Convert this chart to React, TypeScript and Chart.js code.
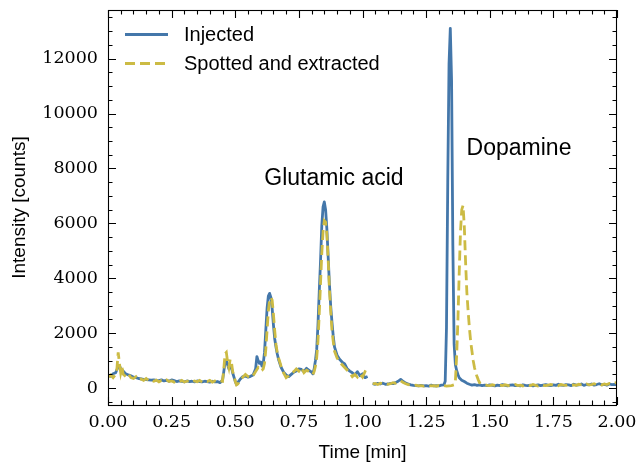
import { useEffect, useRef } from "react";
import { Chart, registerables } from "chart.js";

Chart.register(...registerables);

const seriesLabels = ["Injected", "Spotted and extracted"];
const seriesColors = ["#4477AA", "#CCBB44"];

// [time (min), intensity (counts)] ; null breaks the trace
const injected: [number, number | null][] = [
  [0, 470], [0.01, 430], [0.02, 520], [0.03, 560], [0.04, 780], [0.045, 820], [0.05, 700], [0.06, 620], [0.07, 520], [0.08, 480], [0.09, 450],
  [0.1, 400], [0.11, 380], [0.12, 350], [0.13, 340], [0.14, 320], [0.15, 310], [0.16, 300], [0.17, 290], [0.18, 300], [0.19, 280],
  [0.2, 270], [0.21, 300], [0.22, 260], [0.23, 280], [0.24, 250], [0.25, 300], [0.26, 270], [0.27, 240], [0.28, 260], [0.29, 250],
  [0.3, 230], [0.31, 260], [0.32, 240], [0.33, 250], [0.34, 230], [0.35, 260], [0.36, 240], [0.37, 230], [0.38, 250], [0.39, 240],
  [0.4, 220], [0.41, 250], [0.42, 230], [0.43, 240], [0.44, 200],
  [0.45, 280], [0.455, 600], [0.46, 950], [0.465, 1000], [0.47, 850], [0.475, 700], [0.48, 820], [0.485, 750], [0.49, 550], [0.495, 400], [0.5, 250], [0.505, 130], [0.51, 200],
  [0.52, 330], [0.53, 420], [0.54, 440], [0.55, 400], [0.56, 430], [0.57, 480], [0.58, 700],
  [0.585, 1150], [0.59, 1000], [0.595, 900], [0.6, 950], [0.605, 800], [0.61, 900], [0.615, 1300], [0.62, 2100], [0.625, 2900], [0.63, 3350],
  [0.635, 3450], [0.64, 3300], [0.645, 2900], [0.65, 2300], [0.655, 1800], [0.66, 1500], [0.665, 1250], [0.67, 1050], [0.675, 900], [0.68, 760],
  [0.69, 580], [0.7, 480], [0.71, 420], [0.72, 500], [0.73, 580], [0.74, 620], [0.75, 700], [0.76, 680], [0.77, 600], [0.78, 720], [0.79, 650], [0.8, 580],
  [0.805, 520], [0.81, 700], [0.815, 1000], [0.82, 1400], [0.825, 2300], [0.83, 3500], [0.835, 4600], [0.84, 5900], [0.845, 6600],
  [0.85, 6780], [0.855, 6500], [0.86, 5800], [0.865, 4800], [0.87, 3800], [0.875, 3000], [0.88, 2400], [0.885, 1900], [0.89, 1500],
  [0.9, 1200], [0.91, 1050], [0.92, 950], [0.93, 880], [0.94, 700], [0.95, 620], [0.96, 560], [0.97, 480], [0.98, 600], [0.99, 450],
  [1.0, 520], [1.01, 380], [1.02, 420],
  [1.03, null],
  [1.04, 160], [1.05, 140], [1.06, 170], [1.07, 150], [1.08, 180], [1.09, 140], [1.1, 150], [1.11, 170], [1.12, 160], [1.13, 200],
  [1.14, 250], [1.15, 320], [1.16, 240], [1.17, 180], [1.18, 150], [1.19, 120], [1.2, 100], [1.21, 90], [1.22, 80], [1.23, 100],
  [1.24, 80], [1.25, 90], [1.26, 70], [1.27, 110], [1.28, 80], [1.29, 90], [1.3, 80], [1.31, 110], [1.32, 120],
  [1.325, 250], [1.33, 2200], [1.335, 7500], [1.34, 11800], [1.345, 13100], [1.35, 11200], [1.355, 5200], [1.36, 1600], [1.365, 850],
  [1.37, 640], [1.375, 500], [1.38, 380], [1.39, 290], [1.4, 240], [1.41, 180], [1.42, 140], [1.43, 110], [1.44, 130], [1.45, 100],
  [1.46, 120], [1.47, 90], [1.48, 110], [1.49, 90], [1.5, 120], [1.51, 100], [1.52, 80], [1.53, 110], [1.54, 90], [1.55, 130],
  [1.56, 100], [1.57, 80], [1.58, 110], [1.59, 120], [1.6, 90], [1.61, 100], [1.62, 80], [1.63, 120], [1.64, 100], [1.65, 90],
  [1.66, 110], [1.67, 80], [1.68, 100], [1.69, 120], [1.7, 90], [1.71, 110], [1.72, 130], [1.73, 100], [1.74, 90], [1.75, 120],
  [1.76, 100], [1.77, 140], [1.78, 110], [1.79, 100], [1.8, 130], [1.81, 120], [1.82, 90], [1.83, 140], [1.84, 110], [1.85, 120],
  [1.86, 150], [1.87, 100], [1.88, 130], [1.89, 120], [1.9, 150], [1.91, 110], [1.92, 130], [1.93, 160], [1.94, 120], [1.95, 140],
  [1.96, 110], [1.97, 150], [1.98, 130], [1.99, 140], [2.0, 120],
];

const spotted: [number, number | null][] = [
  [0, 400], [0.01, 480], [0.02, 380], [0.03, 500], [0.035, 700], [0.04, 1300], [0.045, 900], [0.05, 550], [0.055, 750], [0.06, 500],
  [0.07, 420], [0.08, 520], [0.09, 380], [0.1, 350], [0.11, 420], [0.12, 300], [0.13, 330], [0.14, 280], [0.15, 350], [0.16, 270],
  [0.17, 300], [0.18, 250], [0.19, 290], [0.2, 230], [0.21, 280], [0.22, 250], [0.23, 300], [0.24, 240], [0.25, 260], [0.26, 220],
  [0.27, 270], [0.28, 230], [0.29, 280], [0.3, 220], [0.31, 250], [0.32, 270], [0.33, 220], [0.34, 260], [0.35, 230], [0.36, 280],
  [0.37, 220], [0.38, 260], [0.39, 240], [0.4, 280], [0.41, 220], [0.42, 260], [0.43, 230], [0.44, 270],
  [0.45, 250], [0.455, 700], [0.46, 1250], [0.465, 1300], [0.47, 950], [0.475, 750], [0.48, 1050], [0.485, 950], [0.49, 600], [0.495, 450],
  [0.5, 250], [0.505, 120], [0.51, 150], [0.52, 280], [0.53, 400], [0.54, 500], [0.55, 420], [0.56, 380], [0.57, 450], [0.58, 600],
  [0.59, 750], [0.595, 700], [0.6, 620], [0.605, 650], [0.61, 700], [0.615, 900], [0.62, 1400], [0.625, 2100], [0.63, 2800], [0.635, 3200],
  [0.64, 3300], [0.645, 3200], [0.65, 2700], [0.655, 2100], [0.66, 1600], [0.665, 1300], [0.67, 1100], [0.675, 950], [0.68, 800],
  [0.69, 550], [0.7, 380], [0.71, 450], [0.72, 550], [0.73, 600], [0.74, 700], [0.75, 620], [0.76, 750], [0.77, 560], [0.78, 650],
  [0.79, 600], [0.8, 520], [0.805, 500], [0.81, 600], [0.815, 800], [0.82, 1100], [0.825, 1700], [0.83, 2700], [0.835, 3800], [0.84, 4900],
  [0.845, 5700], [0.85, 6100], [0.855, 6050], [0.86, 5600], [0.865, 4700], [0.87, 3600], [0.875, 2800], [0.88, 2100], [0.885, 1700], [0.89, 1350],
  [0.9, 1100], [0.91, 950], [0.92, 850], [0.93, 750], [0.94, 650], [0.95, 550], [0.96, 420], [0.97, 500], [0.98, 400], [0.99, 520],
  [1.0, 400], [1.01, 600], [1.02, 550],
  [1.03, null],
  [1.04, 150], [1.05, 170], [1.06, 130], [1.07, 180], [1.08, 150], [1.09, 170], [1.1, 140], [1.11, 160], [1.12, 200], [1.13, 180],
  [1.14, 230], [1.15, 270], [1.16, 200], [1.17, 160], [1.18, 130], [1.19, 110], [1.2, 90], [1.21, 110], [1.22, 80], [1.23, 90],
  [1.24, 70], [1.25, 90], [1.26, 100], [1.27, 80], [1.28, 90], [1.29, 70], [1.3, 100], [1.31, 80], [1.32, 90], [1.33, 70],
  [1.34, 80], [1.35, 90], [1.36, 120], [1.365, 250], [1.37, 1200], [1.375, 2500], [1.38, 4200], [1.385, 5700], [1.39, 6500], [1.395, 6650],
  [1.4, 5900], [1.405, 4600], [1.41, 3500], [1.415, 2800], [1.42, 2200], [1.425, 1700], [1.43, 1350], [1.435, 1000], [1.44, 750], [1.445, 560],
  [1.45, 420], [1.455, 300], [1.46, 200], [1.47, 150], [1.48, 120], [1.49, 100], [1.5, 90], [1.51, 120], [1.52, 100], [1.53, 80],
  [1.54, 110], [1.55, 90], [1.56, 120], [1.57, 100], [1.58, 80], [1.59, 110], [1.6, 130], [1.61, 90], [1.62, 110], [1.63, 80],
  [1.64, 120], [1.65, 100], [1.66, 90], [1.67, 130], [1.68, 100], [1.69, 80], [1.7, 120], [1.71, 100], [1.72, 90], [1.73, 110],
  [1.74, 130], [1.75, 100], [1.76, 120], [1.77, 90], [1.78, 130], [1.79, 110], [1.8, 100], [1.81, 140], [1.82, 110], [1.83, 120],
  [1.84, 100], [1.85, 140], [1.86, 120], [1.87, 110], [1.88, 150], [1.89, 120], [1.9, 130], [1.91, 160], [1.92, 120], [1.93, 140],
  [1.94, 110], [1.95, 150], [1.96, 130], [1.97, 170], [1.98, 140], [1.99, 190], [2.0, 200],
];

const xMajorTicks = [0, 0.25, 0.5, 0.75, 1.0, 1.25, 1.5, 1.75, 2.0];
const yMajorTicks = [0, 2000, 4000, 6000, 8000, 10000, 12000];
const xMinorStep = 0.05;
const yMinorStep = 500;
const xRange = [0, 2];
const yRange = [-615, 13770];

const annotationText = ["Glutamic acid", "Dopamine"];
const annotationTime = [0.888, 1.615];
const annotationCounts = [7414, 8489];

const xTitle = "Time [min]";
const yTitle = "Intensity [counts]";

const tickFont = "'DejaVu Serif', serif";
const sansFont = "'Liberation Sans', Arial, sans-serif";

const framePlugin = {
  id: "frameTicks",
  afterDatasetsDraw(chart: any) {
    const { ctx, chartArea } = chart;
    const { left, right, top, bottom } = chartArea;
    const xs = chart.scales.x;
    const ys = chart.scales.y;
    ctx.save();
    ctx.strokeStyle = "#000";
    ctx.lineWidth = 1.1;
    ctx.beginPath();
    const drawX = (v: number, len: number) => {
      const p = Math.round(xs.getPixelForValue(v)) + 0.5;
      ctx.moveTo(p, bottom);
      ctx.lineTo(p, bottom - len);
      ctx.moveTo(p, top);
      ctx.lineTo(p, top + len);
    };
    const drawY = (v: number, len: number) => {
      const p = Math.round(ys.getPixelForValue(v)) + 0.5;
      ctx.moveTo(left, p);
      ctx.lineTo(left + len, p);
      ctx.moveTo(right, p);
      ctx.lineTo(right - len, p);
    };
    for (let v = xRange[0]; v <= xRange[1] + 1e-9; v += xMinorStep) {
      const isMajor = xMajorTicks.some((m) => Math.abs(m - v) < 1e-6);
      drawX(v, isMajor ? 8 : 4.5);
    }
    for (let v = -500; v <= yRange[1]; v += yMinorStep) {
      const isMajor = yMajorTicks.includes(v);
      drawY(v, isMajor ? 8 : 4.5);
    }
    ctx.stroke();
    ctx.strokeRect(left + 0.5, top + 0.5, right - left - 1, bottom - top);
    ctx.restore();
  },
  afterDraw(chart: any) {
    const { ctx, chartArea } = chart;
    const xs = chart.scales.x;
    const ys = chart.scales.y;
    ctx.save();
    // annotations
    ctx.fillStyle = "#000";
    ctx.font = `23px ${sansFont}`;
    ctx.textAlign = "center";
    ctx.textBaseline = "alphabetic";
    annotationText.forEach((t, i) => {
      ctx.fillText(t, xs.getPixelForValue(annotationTime[i]), ys.getPixelForValue(annotationCounts[i]));
    });
    // legend
    const lx0 = chartArea.left + 17;
    const lx1 = chartArea.left + 60;
    const rows = [chartArea.top + 24.5, chartArea.top + 53.5];
    ctx.font = `20px ${sansFont}`;
    ctx.textAlign = "left";
    ctx.textBaseline = "middle";
    chart.data.datasets.forEach((ds: any, i: number) => {
      ctx.strokeStyle = ds.borderColor;
      ctx.lineWidth = ds.borderWidth;
      ctx.setLineDash(ds.borderDash || []);
      ctx.beginPath();
      ctx.moveTo(lx0, rows[i]);
      ctx.lineTo(lx1, rows[i]);
      ctx.stroke();
      ctx.setLineDash([]);
      ctx.fillStyle = "#000";
      ctx.fillText(ds.label, chartArea.left + 76, rows[i] + 1);
    });
    ctx.restore();
  },
};

const zeroPad = (scale: any) => {
  scale.paddingTop = 0;
  scale.paddingBottom = 0;
  scale.paddingLeft = 0;
  scale.paddingRight = 0;
};

export default function App() {
  const ref = useRef<HTMLCanvasElement | null>(null);
  useEffect(() => {
    if (!ref.current) return;
    const chart = new Chart(ref.current, {
      type: "line",
      data: {
        datasets: [
          {
            label: seriesLabels[0],
            data: injected.map(([x, y]) => ({ x, y })) as any,
            borderColor: seriesColors[0],
            backgroundColor: seriesColors[0],
            borderWidth: 2.8,
            pointRadius: 0,
            tension: 0,
            fill: false,
            spanGaps: false,
            borderJoinStyle: "round",
            order: 2,
          },
          {
            label: seriesLabels[1],
            data: spotted.map(([x, y]) => ({ x, y })) as any,
            borderColor: seriesColors[1],
            backgroundColor: seriesColors[1],
            borderWidth: 2.8,
            borderDash: [10, 5],
            pointRadius: 0,
            tension: 0,
            fill: false,
            spanGaps: false,
            order: 1,
          },
        ],
      },
      options: {
        responsive: false,
        animation: false,
        devicePixelRatio: 1,
        layout: { padding: { left: 0, right: 21, top: 10, bottom: 0 } },
        plugins: {
          legend: { display: false },
          tooltip: { enabled: false },
        },
        scales: {
          x: {
            type: "linear",
            min: xRange[0],
            max: xRange[1],
            grid: { display: false, drawTicks: false },
            border: { display: false },
            afterBuildTicks: (scale: any) => {
              scale.ticks = xMajorTicks.map((v) => ({ value: v }));
            },
            afterFit: (scale: any) => {
              scale.height = 57;
              zeroPad(scale);
            },
            ticks: {
              autoSkip: false,
              maxRotation: 0,
              padding: 7,
              color: "#000",
              font: { family: tickFont, size: 17.5 },
              callback: (v: any) => Number(v).toFixed(2),
            },
            title: {
              display: true,
              text: xTitle,
              color: "#000",
              font: { family: sansFont, size: 19, lineHeight: 1 },
              padding: { top: 0, bottom: 0 },
            },
          },
          y: {
            type: "linear",
            min: yRange[0],
            max: yRange[1],
            grid: { display: false, drawTicks: false },
            border: { display: false },
            afterBuildTicks: (scale: any) => {
              scale.ticks = yMajorTicks.map((v) => ({ value: v }));
            },
            afterFit: (scale: any) => {
              scale.width = 108;
              zeroPad(scale);
            },
            ticks: {
              padding: 10,
              color: "#000",
              font: { family: tickFont, size: 17.5 },
              callback: (v: any) => String(v),
            },
            title: {
              display: true,
              text: yTitle,
              color: "#000",
              font: { family: sansFont, size: 19, lineHeight: 1 },
              padding: { top: 10, bottom: 0 },
            },
          },
        },
      },
      plugins: [framePlugin],
    });
    return () => chart.destroy();
  }, []);
  return (
    <div style={{ position: "fixed", left: 0, top: 0, width: 638, height: 462, background: "#fff" }}>
      <canvas ref={ref} width={638} height={462} style={{ display: "block", width: 638, height: 462 }} />
    </div>
  );
}
